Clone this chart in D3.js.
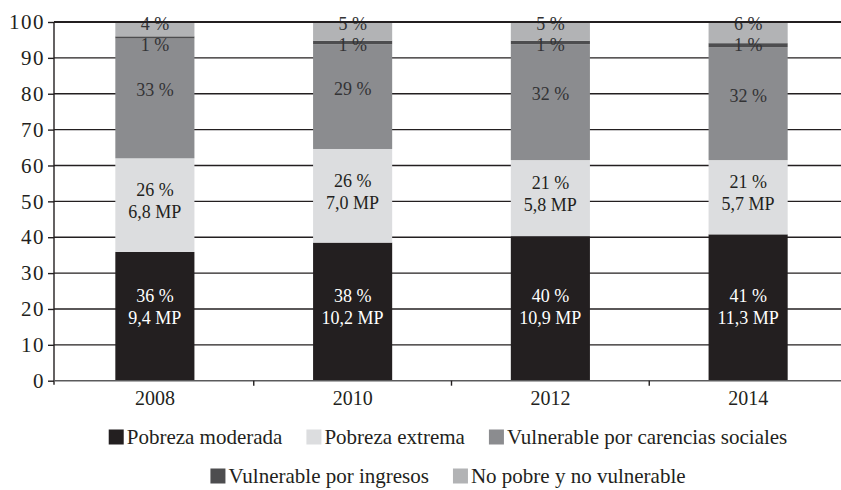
<!DOCTYPE html>
<html>
<head>
<meta charset="utf-8">
<title>pobreza</title>
<script src="https://d3js.org/d3.v7.min.js"></script>
<style>
  body { margin: 0; background: #fff; }
  svg text { font-family: "Liberation Serif", "DejaVu Serif", serif; }
  .grid line { stroke: #231f20; stroke-width: 1.4; }
  .axis text { fill: #231f20; }
</style>
</head>
<body>
<script>

var years = ["2008", "2010", "2012", "2014"];
var series = ["Pobreza moderada", "Pobreza extrema", "Vulnerable por carencias sociales",
              "Vulnerable por ingresos", "No pobre y no vulnerable"];
var colors = ["#231f20", "#dcdddf", "#8b8c8f", "#4d4d4f", "#b2b3b5"];

// shares (%) per year
var moderada  = [35.9, 38.5, 40.3, 40.8];
var extrema   = [26.1, 26.1, 21.2, 20.7];
var carencias = [33.4, 29.2, 32.3, 31.5];
var ingresos  = [0.6, 1.0, 1.0, 1.1];
var noPobre   = [4.0, 5.2, 5.2, 5.9];

// printed labels
var pctLabels = [
  ["36 %", "38 %", "40 %", "41 %"],
  ["26 %", "26 %", "21 %", "21 %"],
  ["33 %", "29 %", "32 %", "32 %"],
  ["1 %", "1 %", "1 %", "1 %"],
  ["4 %", "5 %", "5 %", "6 %"]
];
var mpLabels = [
  ["9,4 MP", "10,2 MP", "10,9 MP", "11,3 MP"],
  ["6,8 MP", "7,0 MP", "5,8 MP", "5,7 MP"]
];
var yTicks = [0, 10, 20, 30, 40, 50, 60, 70, 80, 90, 100];

var W = 841, H = 490;
var plotLeft = 54, plotRight = 841, plotTop = 22, plotBottom = 380.7;

var svg = d3.select("body").append("svg")
    .attr("width", W)
    .attr("height", H);

var values = [moderada, extrema, carencias, ingresos, noPobre];
var table = years.map(function(yr, i) {
  var row = {year: yr};
  series.forEach(function(s, j) { row[s] = values[j][i]; });
  return row;
});
var stacked = d3.stack().keys(series)(table);

// the band for the last year runs a little past the right edge
var x = d3.scaleBand()
    .domain(years)
    .range([plotLeft + 2, plotRight + 6])
    .paddingInner(0.6)
    .paddingOuter(0.3);

var y = d3.scaleLinear()
    .domain([0, 100])
    .range([plotBottom, plotTop]);

// gridlines
svg.append("g").attr("class", "grid")
  .selectAll("line")
  .data(yTicks.filter(function(t) { return t > 0 && t < 100; }))
  .enter().append("line")
    .attr("x1", plotLeft).attr("x2", plotRight)
    .attr("y1", function(d) { return y(d); })
    .attr("y2", function(d) { return y(d); });

// bars
svg.append("g")
  .selectAll("g")
  .data(stacked)
  .enter().append("g")
    .attr("fill", function(d, i) { return colors[i]; })
  .selectAll("rect")
  .data(function(d) { return d; })
  .enter().append("rect")
    .attr("x", function(d) { return x(d.data.year); })
    .attr("width", x.bandwidth())
    .attr("y", function(d) { return y(d[1]); })
    .attr("height", function(d) { return y(d[0]) - y(d[1]); });

// labels inside bars
var lab = svg.append("g").attr("font-size", "18px").attr("text-anchor", "middle");

function cx(i) { return x(years[i]) + x.bandwidth() / 2; }

// moderada + extrema: two lines
[0, 1].forEach(function(j) {
  stacked[j].forEach(function(d, i) {
    var mid = j === 0 ? y(23.5) + 11 : (y(d[0]) + y(d[1])) / 2 - 4;
    var col = j === 0 ? "#fff" : "#231f20";
    lab.append("text").attr("x", cx(i)).attr("y", mid - 11)
      .attr("dominant-baseline", "central").attr("fill", col).text(pctLabels[j][i]);
    lab.append("text").attr("x", cx(i)).attr("y", mid + 11)
      .attr("dominant-baseline", "central").attr("fill", col).text(mpLabels[j][i]);
  });
});

// carencias
stacked[2].forEach(function(d, i) {
  lab.append("text").attr("x", cx(i)).attr("y", (y(d[0]) + y(d[1])) / 2 - 8)
    .attr("dominant-baseline", "central").attr("fill", "#333335").text(pctLabels[2][i]);
});
// ingresos and no pobre (near the top)
years.forEach(function(yr, i) {
  lab.append("text").attr("x", cx(i)).attr("y", y(93.7))
    .attr("dominant-baseline", "central").attr("fill", "#333335").text(pctLabels[3][i]);
  lab.append("text").attr("x", cx(i)).attr("y", y(99.5))
    .attr("dominant-baseline", "central").attr("fill", "#333335").text(pctLabels[4][i]);
});

// top line at 100
svg.append("line")
    .attr("x1", plotLeft).attr("x2", plotRight)
    .attr("y1", y(100)).attr("y2", y(100))
    .attr("stroke", "#231f20").attr("stroke-width", 2);

// y axis
var yAxis = svg.append("g").attr("class", "axis")
    .attr("transform", "translate(" + plotLeft + ",0)")
    .call(d3.axisLeft(y).tickValues(yTicks).tickSize(6).tickPadding(3));
yAxis.select(".domain").attr("stroke", "#231f20").attr("stroke-width", 1.4)
    .attr("d", "M0," + y(100) + "V" + (plotBottom + 4));
yAxis.selectAll(".tick line").attr("stroke", "#231f20").attr("stroke-width", 1.4);
yAxis.selectAll("text")
    .attr("font-family", "Liberation Serif")
    .attr("font-size", "21px")
    .attr("letter-spacing", "1.5px");

// x axis line and ticks at category boundaries
svg.append("line")
    .attr("x1", plotLeft).attr("x2", plotRight)
    .attr("y1", plotBottom).attr("y2", plotBottom)
    .attr("stroke", "#5a5a5c").attr("stroke-width", 1.5);
svg.append("g")
  .selectAll("line")
  .data(years.slice(1))
  .enter().append("line")
    .attr("x1", function(d) { return x(d) - x.step() * x.paddingInner() / 2; })
    .attr("x2", function(d) { return x(d) - x.step() * x.paddingInner() / 2; })
    .attr("y1", plotBottom).attr("y2", plotBottom + 5)
    .attr("stroke", "#231f20").attr("stroke-width", 1.4);

svg.append("g").attr("class", "axis")
  .selectAll("text")
  .data(years)
  .enter().append("text")
    .attr("x", function(d) { return x(d) + x.bandwidth() / 2; })
    .attr("y", 398)
    .attr("text-anchor", "middle")
    .attr("dominant-baseline", "central")
    .attr("font-size", "20px")
    .text(function(d) { return d; });

// legend
var rows = [[0, 1, 2], [3, 4]];
var rowY = [437, 476];
var rowCenter = 448;
rows.forEach(function(r, k) {
  var g = svg.append("g");
  var xpos = 0;
  r.forEach(function(j) {
    var item = g.append("g").attr("transform", "translate(" + xpos + ",0)");
    item.append("rect").attr("x", 0).attr("y", -7.5).attr("width", 15).attr("height", 15)
      .attr("fill", colors[j]);
    var t = item.append("text").attr("x", 18).attr("y", 0)
      .attr("dominant-baseline", "central")
      .attr("font-size", "21px").attr("fill", "#231f20")
      .text(series[j]);
    xpos += 18 + t.node().getComputedTextLength() + 24;
  });
  var w = xpos - 24;
  g.attr("transform", "translate(" + (rowCenter - w / 2) + "," + rowY[k] + ")");
});

</script>
</body>
</html>
